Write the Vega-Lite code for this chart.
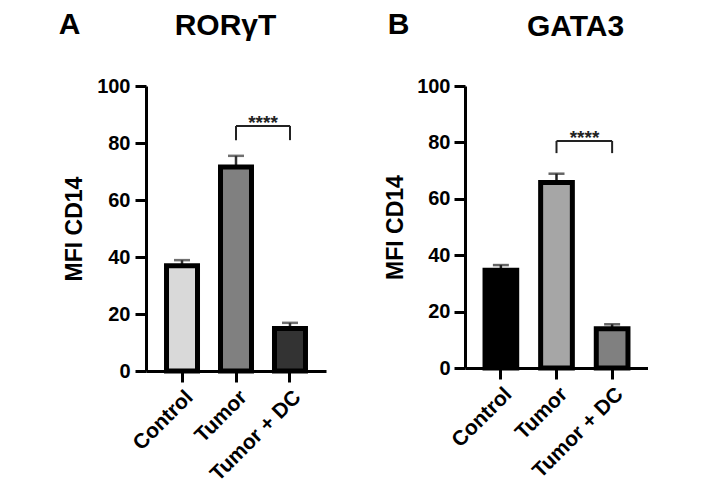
{
  "$schema": "https://vega.github.io/schema/vega-lite/v6.json",
  "padding": {"left": 58, "top": 10, "right": 0, "bottom": 0},
  "spacing": 58,
  "datasets": {
    "ror": [
      {"group": "Control", "mean": 36.9, "upper": 38.9},
      {"group": "Tumor", "mean": 71.6, "upper": 75.5},
      {"group": "Tumor + DC", "mean": 14.9, "upper": 16.9}
    ],
    "gata": [
      {"group": "Control", "mean": 34.7, "upper": 36.5},
      {"group": "Tumor", "mean": 65.8, "upper": 68.9},
      {"group": "Tumor + DC", "mean": 13.9, "upper": 15.5}
    ],
    "sigA": [{"from": "Tumor", "to": "Tumor + DC", "y": 86, "leg": 81, "label": "****"}],
    "sigB": [{"from": "Tumor", "to": "Tumor + DC", "y": 80.5, "leg": 76.2, "label": "****"}]
  },
  "hconcat": [
    {
      "width": 180,
      "height": 285,
      "title": {"text": "A", "anchor": "start", "frame": "bounds", "baseline": "alphabetic", "offset": -54, "dx": -5},
      "layer": [
        {
          "data": {"name": "ror"},
          "mark": {"type": "rule", "strokeWidth": 2.5, "color": "#333"},
          "encoding": {
            "x": {"field": "group", "type": "nominal", "axis": null},
            "y": {"field": "mean", "type": "quantitative"},
            "y2": {"field": "upper"}
          }
        },
        {
          "data": {"name": "ror"},
          "mark": {"type": "tick", "size": 16, "thickness": 2.5, "color": "#333"},
          "encoding": {
            "x": {"field": "group", "type": "nominal", "axis": null},
            "y": {"field": "upper", "type": "quantitative"}
          }
        },
        {
          "data": {"name": "ror"},
          "mark": {"type": "bar", "stroke": "black", "strokeWidth": 5},
          "encoding": {
            "x": {
              "field": "group", "type": "nominal",
              "scale": {"domain": ["Control", "Tumor", "Tumor + DC"], "paddingInner": 0.426, "paddingOuter": 0.38},
              "axis": {"title": null, "labelAngle": -45, "labelFontSize": 21, "labelPadding": 4}
            },
            "y": {
              "field": "mean", "type": "quantitative",
              "scale": {"domain": [0, 100]},
              "axis": {"title": "MFI CD14", "values": [0, 20, 40, 60, 80, 100], "labelPadding": 5, "titlePadding": 10}
            },
            "fill": {
              "field": "group", "type": "nominal", "legend": null,
              "scale": {"domain": ["Control", "Tumor", "Tumor + DC"], "range": ["#d9d9d9", "#808080", "#333333"]}
            }
          }
        },
        {
          "data": {"name": "sigA"},
          "mark": {"type": "rule", "strokeWidth": 2, "color": "#222"},
          "encoding": {
            "x": {
              "field": "from", "type": "nominal",
              "axis": {"orient": "top", "title": "RORγT", "labels": false, "ticks": false, "domain": false, "titleX": 79, "titleY": -52, "titleBaseline": "alphabetic", "titleAnchor": "middle"}
            },
            "x2": {"field": "to"},
            "y": {"field": "y", "type": "quantitative"}
          }
        },
        {
          "data": {"name": "sigA"},
          "mark": {"type": "rule", "strokeWidth": 2, "color": "#222"},
          "encoding": {
            "x": {"field": "from", "type": "nominal", "axis": null},
            "y": {"field": "y", "type": "quantitative"},
            "y2": {"field": "leg"}
          }
        },
        {
          "data": {"name": "sigA"},
          "mark": {"type": "rule", "strokeWidth": 2, "color": "#222"},
          "encoding": {
            "x": {"field": "to", "type": "nominal", "axis": null},
            "y": {"field": "y", "type": "quantitative"},
            "y2": {"field": "leg"}
          }
        },
        {
          "data": {"name": "sigA"},
          "mark": {"type": "text", "fontSize": 19, "fontWeight": "bold", "baseline": "alphabetic", "dx": 27, "dy": 3, "color": "#222"},
          "encoding": {
            "x": {"field": "from", "type": "nominal", "axis": null},
            "y": {"field": "y", "type": "quantitative"},
            "text": {"field": "label"}
          }
        }
      ],
      "resolve": {"axis": {"x": "independent"}}
    },
    {
      "width": 183,
      "height": 282,
      "title": {"text": "B", "anchor": "start", "frame": "bounds", "baseline": "alphabetic", "offset": -53, "dx": 3},
      "layer": [
        {
          "data": {"name": "gata"},
          "mark": {"type": "rule", "strokeWidth": 2.5, "color": "#222"},
          "encoding": {
            "x": {"field": "group", "type": "nominal", "axis": null},
            "y": {"field": "mean", "type": "quantitative"},
            "y2": {"field": "upper"}
          }
        },
        {
          "data": {"name": "gata"},
          "mark": {"type": "tick", "size": 16, "thickness": 2.5, "color": "#222"},
          "encoding": {
            "x": {"field": "group", "type": "nominal", "axis": null},
            "y": {"field": "upper", "type": "quantitative"}
          }
        },
        {
          "data": {"name": "gata"},
          "mark": {"type": "bar", "stroke": "black", "strokeWidth": 5},
          "encoding": {
            "x": {
              "field": "group", "type": "nominal",
              "scale": {"domain": ["Control", "Tumor", "Tumor + DC"], "paddingInner": 0.43, "paddingOuter": 0.36},
              "axis": {"title": null, "labelAngle": -45, "labelFontSize": 21, "labelPadding": 4}
            },
            "y": {
              "field": "mean", "type": "quantitative",
              "scale": {"domain": [0, 100]},
              "axis": {"title": "MFI CD14", "values": [0, 20, 40, 60, 80, 100], "labelPadding": 4, "titlePadding": 9}
            },
            "fill": {
              "field": "group", "type": "nominal", "legend": null,
              "scale": {"domain": ["Control", "Tumor", "Tumor + DC"], "range": ["#000000", "#a6a6a6", "#808080"]}
            }
          }
        },
        {
          "data": {"name": "sigB"},
          "mark": {"type": "rule", "strokeWidth": 2, "color": "#222"},
          "encoding": {
            "x": {
              "field": "from", "type": "nominal",
              "axis": {"orient": "top", "title": "GATA3", "labels": false, "ticks": false, "domain": false, "titleX": 110, "titleY": -51, "titleBaseline": "alphabetic", "titleAnchor": "middle"}
            },
            "x2": {"field": "to"},
            "y": {"field": "y", "type": "quantitative"}
          }
        },
        {
          "data": {"name": "sigB"},
          "mark": {"type": "rule", "strokeWidth": 2, "color": "#222"},
          "encoding": {
            "x": {"field": "from", "type": "nominal", "axis": null},
            "y": {"field": "y", "type": "quantitative"},
            "y2": {"field": "leg"}
          }
        },
        {
          "data": {"name": "sigB"},
          "mark": {"type": "rule", "strokeWidth": 2, "color": "#222"},
          "encoding": {
            "x": {"field": "to", "type": "nominal", "axis": null},
            "y": {"field": "y", "type": "quantitative"},
            "y2": {"field": "leg"}
          }
        },
        {
          "data": {"name": "sigB"},
          "mark": {"type": "text", "fontSize": 19, "fontWeight": "bold", "baseline": "alphabetic", "dx": 28, "dy": 3, "color": "#222"},
          "encoding": {
            "x": {"field": "from", "type": "nominal", "axis": null},
            "y": {"field": "y", "type": "quantitative"},
            "text": {"field": "label"}
          }
        }
      ],
      "resolve": {"axis": {"x": "independent"}}
    }
  ],
  "resolve": {"scale": {"fill": "independent"}},
  "config": {
    "font": "Liberation Sans",
    "view": {"stroke": null},
    "title": {"fontSize": 30, "fontWeight": "bold", "color": "black", "font": "Liberation Sans"},
    "axis": {
      "grid": false,
      "domainColor": "black",
      "domainWidth": 3,
      "tickColor": "black",
      "tickWidth": 3,
      "tickSize": 11,
      "labelColor": "black",
      "labelFont": "Liberation Sans",
      "labelFontWeight": "bold",
      "labelFontSize": 20,
      "titleColor": "black",
      "titleFont": "Liberation Sans",
      "titleFontWeight": "bold",
      "titleFontSize": 23
    },
    "axisTop": {"titleFontSize": 30}
  }
}
